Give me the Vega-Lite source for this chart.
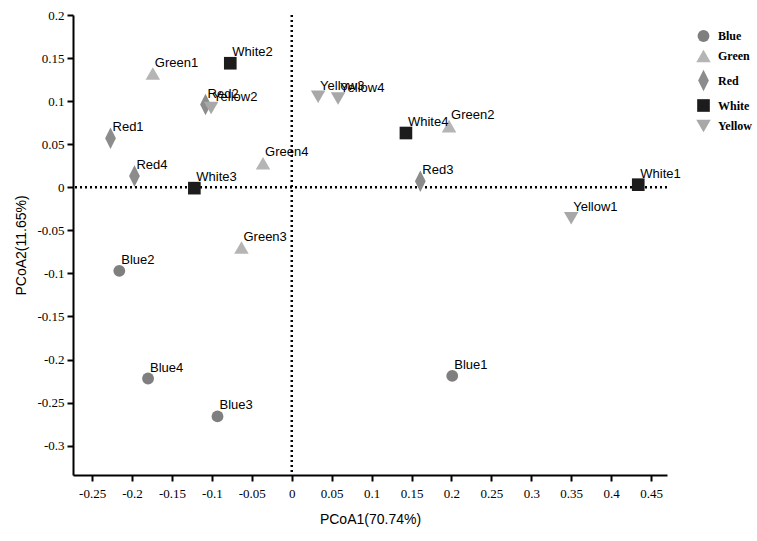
{
  "$schema": "https://vega.github.io/schema/vega-lite/v6.json",
  "width": 594,
  "height": 460,
  "autosize": "none",
  "padding": {"left": 73, "top": 15, "right": 90, "bottom": 66},
  "background": "white",
  "config": {
    "view": {"stroke": null},
    "axis": {
      "domainColor": "black", "domainWidth": 2, "tickColor": "black", "tickWidth": 2, "tickSize": 6,
      "labelFont": "Liberation Sans Narrow", "labelFontSize": 13, "labelColor": "black",
      "titleFont": "Liberation Sans", "titleFontSize": 14, "titleFontWeight": "normal", "titleColor": "black",
      "grid": false
    }
  },
  "datasets": {
    "pts": [
      {"name": "Blue1", "group": "Blue", "x": 0.201, "y": -0.219},
      {"name": "Blue2", "group": "Blue", "x": -0.216, "y": -0.097},
      {"name": "Blue3", "group": "Blue", "x": -0.093, "y": -0.266},
      {"name": "Blue4", "group": "Blue", "x": -0.18, "y": -0.222},
      {"name": "Green1", "group": "Green", "x": -0.174, "y": 0.132},
      {"name": "Green2", "group": "Green", "x": 0.197, "y": 0.071},
      {"name": "Green3", "group": "Green", "x": -0.063, "y": -0.07},
      {"name": "Green4", "group": "Green", "x": -0.036, "y": 0.028},
      {"name": "Red1", "group": "Red", "x": -0.227, "y": 0.057},
      {"name": "Red2", "group": "Red", "x": -0.108, "y": 0.096},
      {"name": "Red3", "group": "Red", "x": 0.161, "y": 0.007},
      {"name": "Red4", "group": "Red", "x": -0.197, "y": 0.013},
      {"name": "White1", "group": "White", "x": 0.434, "y": 0.003},
      {"name": "White2", "group": "White", "x": -0.077, "y": 0.144},
      {"name": "White3", "group": "White", "x": -0.122, "y": -0.001},
      {"name": "White4", "group": "White", "x": 0.143, "y": 0.063},
      {"name": "Yellow1", "group": "Yellow", "x": 0.35, "y": -0.036},
      {"name": "Yellow2", "group": "Yellow", "x": -0.101, "y": 0.092},
      {"name": "Yellow3", "group": "Yellow", "x": 0.033, "y": 0.105},
      {"name": "Yellow4", "group": "Yellow", "x": 0.058, "y": 0.103}
    ]
  },
  "layer": [
    {
      "data": {"values": [{"v": 0}]},
      "mark": {"type": "rule", "color": "black", "strokeWidth": 2.5, "strokeDash": [2, 3]},
      "encoding": {"y": {"field": "v", "type": "quantitative", "scale": {"domain": [-0.334, 0.2]}}}
    },
    {
      "data": {"values": [{"v": 0}]},
      "mark": {"type": "rule", "color": "black", "strokeWidth": 2.5, "strokeDash": [2, 3]},
      "encoding": {"x": {"field": "v", "type": "quantitative", "scale": {"domain": [-0.274, 0.47]}}}
    },
    {
      "data": {"name": "pts"},
      "mark": {"type": "point", "filled": true, "opacity": 1},
      "encoding": {
        "x": {"field": "x", "type": "quantitative", "title": "PCoA1(70.74%)",
          "scale": {"domain": [-0.274, 0.47], "nice": false, "zero": false},
          "axis": {"values": [-0.25, -0.2, -0.15, -0.1, -0.05, 0, 0.05, 0.1, 0.15, 0.2, 0.25, 0.3, 0.35, 0.4, 0.45], "labelExpr": "'' + datum.value", "titlePadding": 12, "labelPadding": 6}},
        "y": {"field": "y", "type": "quantitative", "title": "PCoA2(11.65%)",
          "scale": {"domain": [-0.334, 0.2], "nice": false, "zero": false},
          "axis": {"values": [-0.3, -0.25, -0.2, -0.15, -0.1, -0.05, 0, 0.05, 0.1, 0.15, 0.2], "labelExpr": "'' + datum.value", "titlePadding": 8, "labelPadding": 3}},
        "color": {"field": "group", "type": "nominal",
          "scale": {"domain": ["Blue", "Green", "Red", "White", "Yellow"], "range": ["#7f7f7f", "#b5b5b5", "#8c8c8c", "#1c1c1c", "#a8a8a8"]},
          "legend": {"title": null, "orient": "none", "legendX": 622, "legendY": 14, "labelFont": "Liberation Serif", "labelFontWeight": "bold", "labelFontSize": 12, "labelColor": "black", "symbolSize": 190, "rowPadding": 6, "labelOffset": 6}},
        "shape": {"field": "group", "type": "nominal",
          "scale": {"domain": ["Blue", "Green", "Red", "White", "Yellow"], "range": ["circle", "triangle-up", "M0,-1.4L0.7,0L0,1.4L-0.7,0Z", "square", "triangle-down"]}},
        "size": {"field": "group", "type": "nominal", "legend": null,
          "scale": {"type": "ordinal", "domain": ["Blue", "Green", "Red", "White", "Yellow"], "range": [140, 210, 237, 160, 210]}}
      }
    },
    {
      "data": {"name": "pts"},
      "mark": {"type": "text", "align": "left", "baseline": "bottom", "dx": 2, "dy": -4, "font": "Liberation Sans", "fontSize": 13, "color": "black"},
      "encoding": {
        "x": {"field": "x", "type": "quantitative"},
        "y": {"field": "y", "type": "quantitative"},
        "text": {"field": "name"}
      }
    }
  ]
}
